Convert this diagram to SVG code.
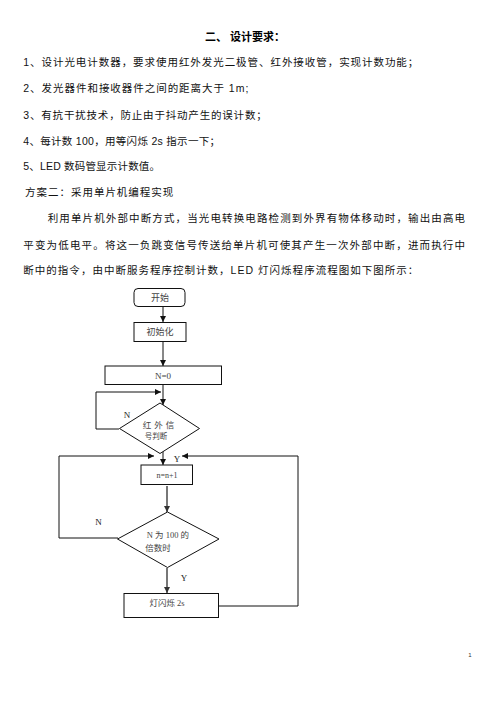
<svg xmlns="http://www.w3.org/2000/svg" width="496" height="702" viewBox="0 0 496 702">
<style>
.body{font-family:"Liberation Sans","Noto Sans CJK SC",sans-serif;font-size:10.5px;fill:#111}
.title{font-family:"Liberation Sans","Noto Sans CJK SC",sans-serif;font-size:11px;font-weight:bold;fill:#000}
.fc{font-family:"Liberation Serif","Noto Sans CJK SC",serif;fill:#444;text-anchor:middle}
.lbl{font-family:"Liberation Serif","Noto Sans CJK SC",serif;font-size:9px;fill:#222;text-anchor:middle}
.box{fill:#fff;stroke:#111;stroke-width:1}
.con{fill:none;stroke:#111;stroke-width:1}
.con2{fill:none;stroke:#777;stroke-width:2}
</style>
<defs>
<marker id="ah" viewBox="0 0 10 10" refX="10" refY="5" markerWidth="6" markerHeight="6" orient="auto" markerUnits="userSpaceOnUse"><path d="M0,0 L10,5 L0,10 z" fill="#111"/></marker>
<marker id="ah2" viewBox="0 0 10 10" refX="10" refY="5" markerWidth="6" markerHeight="6" orient="auto" markerUnits="userSpaceOnUse"><path d="M0,0 L10,5 L0,10 z" fill="#333"/></marker>
</defs>
<rect width="496" height="702" fill="#fff"/>
<g id="text">
<text class="title" x="205" y="40.5" textLength="80" lengthAdjust="spacing">二、 设计要求：</text>
<text class="body" x="23.3" y="66.3" textLength="395" lengthAdjust="spacing">1、设计光电计数器，要求使用红外发光二极管、红外接收管，实现计数功能；</text>
<text class="body" x="23.3" y="92.3" textLength="225" lengthAdjust="spacing">2、发光器件和接收器件之间的距离大于 1m;</text>
<text class="body" x="23.3" y="119" textLength="243.4" lengthAdjust="spacing">3、有抗干扰技术，防止由于抖动产生的误计数；</text>
<text class="body" x="23.3" y="145" textLength="196.7" lengthAdjust="spacing">4、每计数 100，用等闪烁 2s 指示一下；</text>
<text class="body" x="23.3" y="170" textLength="136.7" lengthAdjust="spacing">5、LED 数码管显示计数值。</text>
<text class="body" x="25" y="195.7" textLength="148.3" lengthAdjust="spacing">方案二：采用单片机编程实现</text>
<text class="body" x="47.7" y="222.3" textLength="417.3" lengthAdjust="spacing">利用单片机外部中断方式，当光电转换电路检测到外界有物体移动时，输出由高电</text>
<text class="body" x="23.3" y="249" textLength="441.7" lengthAdjust="spacing">平变为低电平。将这一负跳变信号传送给单片机可使其产生一次外部中断，进而执行中</text>
<text class="body" x="23.3" y="274" textLength="395" lengthAdjust="spacing">断中的指令，由中断服务程序控制计数，LED 灯闪烁程序流程图如下图所示：</text>
<text x="470" y="657" font-family="Liberation Sans, sans-serif" font-size="6" fill="#333" text-anchor="middle">1</text>
</g>
<g id="connectors">
<line class="con" x1="163" y1="306" x2="163" y2="322" marker-end="url(#ah)"/>
<line class="con" x1="163" y1="342" x2="163" y2="366" marker-end="url(#ah)"/>
<line class="con" x1="163" y1="384" x2="163" y2="405" marker-end="url(#ah)"/>
<polyline class="con" points="119,429 96,429 96,392 161,392" marker-end="url(#ah)"/>
<line class="con" x1="163" y1="451" x2="163" y2="465" marker-end="url(#ah)"/>
<polyline class="con" points="118,538 59,538 59,456 154,456" marker-end="url(#ah)"/>
<polyline class="con" points="218,606 298,606 298,456 182,456" marker-end="url(#ah)"/>
<line class="con2" x1="167" y1="486" x2="167" y2="512" marker-end="url(#ah2)"/>
<line class="con2" x1="167" y1="568" x2="167" y2="593" marker-end="url(#ah2)"/>
<text class="lbl" x="127" y="417.5">N</text>
<text class="lbl" x="177" y="461.5">Y</text>
<text class="lbl" x="98.5" y="525">N</text>
<text class="lbl" x="184" y="581">Y</text>
</g>
<g id="start">
<rect class="box" x="134" y="288.5" width="51" height="18" rx="4"/>
<text class="fc" x="160" y="300.5" font-size="9">开始</text>
</g>
<g id="init">
<rect class="box" x="134" y="322.5" width="52" height="19"/>
<text class="fc" x="160" y="335" font-size="9">初始化</text>
</g>
<g id="n0">
<rect class="box" x="105" y="366" width="116.5" height="18.5"/>
<text class="fc" x="163" y="378.5" font-size="9" fill="#222">N=0</text>
</g>
<g id="ir">
<polygon class="box" points="160,403 199.5,428.5 160,453.5 119.5,428.5"/>
<text class="fc" x="160" y="428" font-size="8.5" letter-spacing="3">红外信</text>
<text class="fc" x="156" y="438.5" font-size="7.5">号判断</text>
</g>
<g id="inc">
<rect class="box" x="141" y="465" width="51.5" height="19.5"/>
<text class="fc" x="167" y="478" font-size="8" fill="#222">n=n+1</text>
</g>
<g id="mult">
<polygon class="box" points="167.5,512 219,539 167.5,567.5 117.5,539"/>
<text class="fc" x="168" y="537.5" font-size="8.5">N 为 100 的</text>
<text class="fc" x="158" y="551" font-size="8.5">倍数时</text>
</g>
<g id="blink">
<rect class="box" x="124" y="593.5" width="94.5" height="24"/>
<text class="fc" x="167" y="606" font-size="8.5">灯闪烁 2s</text>
</g>
</svg>
